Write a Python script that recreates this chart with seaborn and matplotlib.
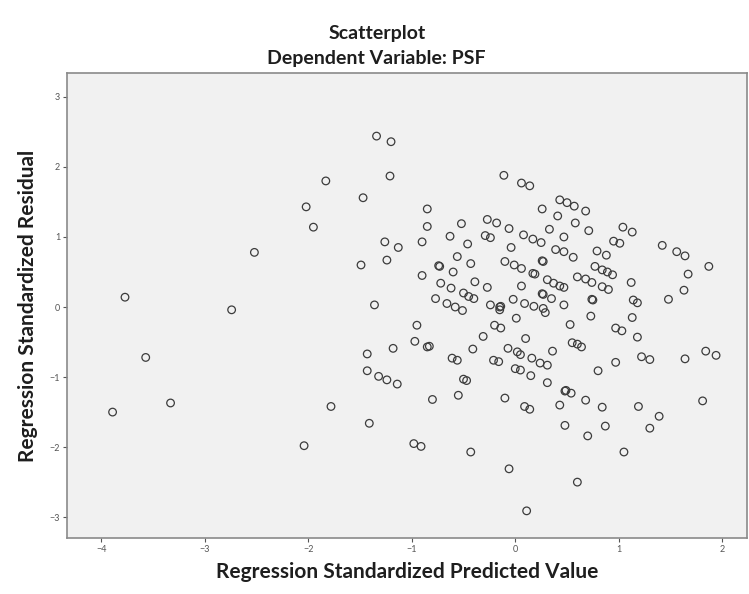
import pandas as pd
import matplotlib
matplotlib.use("Agg")
import matplotlib.pyplot as plt
import seaborn as sns

pred = [
    -3.89, -3.77, -3.57, -3.33, -2.74, -2.52, -2.04, -2.02, -1.95, -1.83,
    -1.78, -1.49, -1.47, -1.43, -1.43, -1.41, -1.36, -1.34, -1.32, -1.26,
    -1.24, -1.24, -1.21, -1.20, -1.18, -1.14, -1.13,
    -0.98, -0.97, -0.95, -0.91, -0.90, -0.90, -0.85, -0.85, -0.85, -0.83,
    -0.80, -0.77, -0.74, -0.73, -0.72, -0.66, -0.63, -0.62, -0.61, -0.60,
    -0.58, -0.56, -0.56, -0.55, -0.52, -0.51, -0.50, -0.50, -0.47, -0.46,
    -0.45, -0.43, -0.43, -0.41, -0.40, -0.39, -0.31, -0.29, -0.27, -0.27,
    -0.24, -0.24, -0.21, -0.20, -0.18, -0.16, -0.15, -0.14, -0.15, -0.14,
    -0.11, -0.10, -0.10, -0.07, -0.06, -0.06, -0.04, -0.02, -0.01,
    0.00, 0.01, 0.02, 0.06, 0.14, 0.05, 0.05, 0.06, 0.06, 0.08,
    0.09, 0.10, 0.09, 0.11, 0.14, 0.15, 0.16, 0.17, 0.17, 0.18,
    0.19, 0.24, 0.25, 0.26, 0.26, 0.27, 0.26, 0.27, 0.27, 0.29,
    0.31, 0.31, 0.31, 0.33, 0.35, 0.36, 0.37, 0.39, 0.41, 0.43,
    0.43, 0.43, 0.47, 0.47, 0.47, 0.47, 0.48, 0.48, 0.49, 0.54,
    0.50, 0.53, 0.55, 0.56, 0.57, 0.58, 0.60, 0.60, 0.60, 0.64,
    0.68, 0.68, 0.68, 0.70, 0.71, 0.73, 0.74, 0.74, 0.75, 0.77,
    0.79, 0.80, 0.84, 0.84, 0.84, 0.87, 0.88, 0.89, 0.90, 0.94,
    0.95, 0.97, 0.97, 1.01, 1.03, 1.04, 1.05, 1.12, 1.13, 1.13,
    1.14, 1.18, 1.18, 1.19, 1.22, 1.30, 1.30, 1.39, 1.42, 1.48,
    1.56, 1.63, 1.64, 1.64, 1.67, 1.81, 1.84, 1.87, 1.94,
]
resid = [
    -1.50, 0.14, -0.72, -1.37, -0.04, 0.78, -1.98, 1.43, 1.14, 1.80,
    -1.42, 0.60, 1.56, -0.67, -0.91, -1.66, 0.03, 2.44, -0.99, 0.93,
    0.67, -1.04, 1.87, 2.36, -0.59, -1.10, 0.85,
    -1.95, -0.49, -0.26, -1.99, 0.93, 0.45, 1.40, 1.15, -0.57, -0.56,
    -1.32, 0.12, 0.59, 0.58, 0.34, 0.05, 1.01, 0.27, -0.73, 0.50,
    0.00, 0.72, -0.76, -1.26, 1.19, -0.05, 0.20, -1.03, -1.05, 0.90,
    0.15, 0.62, -2.07, -0.60, 0.12, 0.36, -0.42, 1.02, 1.25, 0.28,
    0.99, 0.03, -0.76, -0.26, 1.20, -0.78, 0.00, 0.01, -0.04, -0.30,
    1.88, 0.65, -1.30, -0.59, 1.12, -2.31, 0.85, 0.11, 0.60,
    -0.88, -0.16, -0.64, 1.77, 1.73, -0.68, -0.90, 0.55, 0.30, 1.03,
    0.05, -0.45, -1.42, -2.91, -1.46, -0.98, -0.73, 0.97, 0.48, 0.01,
    0.47, -0.80, 0.92, 1.40, 0.66, 0.65, 0.19, 0.18, -0.02, -0.08,
    0.39, -0.83, -1.08, 1.11, 0.12, -0.63, 0.34, 0.82, 1.30, 1.53,
    0.30, -1.40, 1.00, 0.79, 0.28, 0.03, -1.20, -1.69, -1.19, -1.23,
    1.49, -0.25, -0.51, 0.71, 1.44, 1.20, 0.43, -0.53, -2.50, -0.57,
    1.37, 0.40, -1.33, -1.84, 1.09, -0.13, 0.35, 0.11, 0.10, 0.58,
    0.80, -0.91, 0.53, 0.29, -1.43, -1.70, 0.74, 0.50, 0.25, 0.46,
    0.94, -0.30, -0.79, 0.91, -0.34, 1.14, -2.07, 0.35, 1.07, -0.15,
    0.10, 0.06, -0.43, -1.42, -0.71, -0.75, -1.73, -1.56, 0.88, 0.11,
    0.79, 0.24, 0.73, -0.74, 0.47, -1.34, -0.63, 0.58, -0.69,
]
x_ticks = [-4, -3, -2, -1, 0, 1, 2]
y_ticks = [-3, -2, -1, 0, 1, 2, 3]

df = pd.DataFrame({"pred": pred, "resid": resid})

sns.set_style("white")
plt.rcParams["font.family"] = ["Lato", "DejaVu Sans"]

fig = plt.figure(figsize=(7.49, 5.94), dpi=100)
ax = fig.add_axes([0.0895, 0.094, 0.908, 0.783])
ax.set_facecolor("#f1f1f1")

sns.scatterplot(data=df, x="pred", y="resid", ax=ax, s=30,
                facecolor="none", edgecolor="#3c3c3c", linewidth=0.9)

ax.set_xlim(-4.33, 2.24)
ax.set_ylim(-3.30, 3.34)
ax.set_xticks(x_ticks)
ax.set_yticks(y_ticks)
ax.tick_params(axis="both", direction="out", length=3, width=0.8,
               colors="#555555", labelsize=6.5, pad=2, bottom=True, left=True)
for side in ax.spines.values():
    side.set_color("#8a8a8a")
    side.set_linewidth(1.2)

ax.set_xlabel("Regression Standardized Predicted Value", fontsize=15,
              fontweight="bold", color="#1e1e1e", labelpad=6)
ax.set_ylabel("Regression Standardized Residual", fontsize=15,
              fontweight="bold", color="#1e1e1e", labelpad=8)
fig.text(0.503, 0.944, "Scatterplot", ha="center", va="center",
         fontsize=14, fontweight="bold", color="#1e1e1e")
fig.text(0.503, 0.902, "Dependent Variable: PSF", ha="center", va="center",
         fontsize=14, fontweight="bold", color="#1e1e1e")

plt.savefig("out.png", dpi=100)
